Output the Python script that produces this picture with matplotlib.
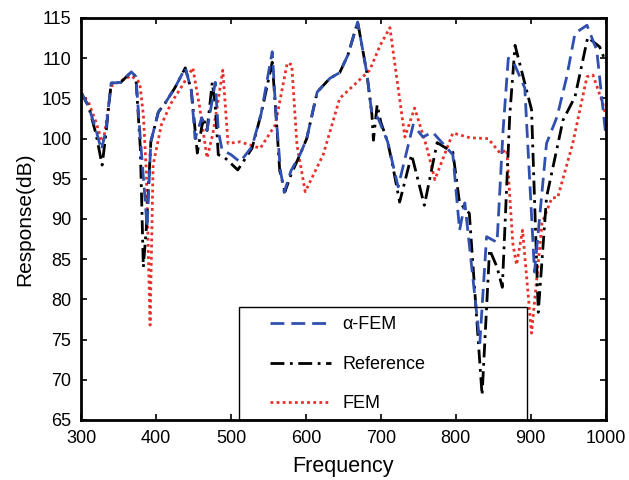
import matplotlib
matplotlib.use('Agg')
import matplotlib.pyplot as plt
from matplotlib.patches import Rectangle

plt.rcParams['font.family'] = ['Liberation Sans', 'DejaVu Sans']

# alpha-FEM
f_alpha = [300, 310, 320, 327, 333, 340, 353, 367, 373, 379, 384, 388, 393, 403, 412, 425,
           439, 447, 452, 461, 468, 479, 483, 488, 500, 512, 528, 540, 555, 560, 566, 571,
           580, 592, 601, 615, 632, 645, 656, 669, 681, 688, 696, 709, 723, 743, 756, 769,
           796, 805, 812, 832, 841, 855, 863, 870, 877, 892, 905, 921, 935, 948, 959, 975,
           988, 1000]
r_alpha = [105.7, 104, 101, 98.6, 101, 106.9, 107, 108.3, 107.7, 100, 94, 89, 99.6, 103.3, 104.4, 106.3,
           108.8, 106, 100, 102.6, 101, 107, 101, 98.6, 98, 97.1, 99, 103, 110.8, 103, 96, 93.3,
           96, 98, 100, 105.8, 107.5, 108.2, 110.4, 114.5, 108.3, 103, 102.6, 99.6, 94, 101.7, 100.2, 100.8,
           98, 88.6, 92, 74.6, 87.8, 87.1, 101, 110, 109.5, 106.3, 83.4, 99.4, 102.7, 107.7, 113.1, 114.1,
           111, 100.5]

# Reference
f_ref = [300, 310, 320, 328, 333, 340, 353, 367, 373, 379, 383, 387, 393, 403, 412, 425,
         439, 447, 455, 463, 468, 475, 479, 483, 492, 509, 528, 540, 555, 560, 565, 572,
         580, 592, 601, 615, 632, 645, 656, 669, 681, 688, 690, 695, 700, 709, 715, 725,
         741, 758, 775, 796, 805, 812, 818, 835, 845, 855, 862, 872, 879, 901, 910, 921,
         943, 959, 976, 992, 1000]
r_ref = [105.7, 104, 100.5, 96.7, 100.5, 106.9, 107, 108.3, 107.7, 98.8, 84, 88.9, 99.6, 103.3, 104.4, 106.3,
         108.8, 106, 98.2, 102.6, 101, 107, 104, 98, 97.6, 96.1, 98.8, 103, 109.5, 103, 96, 93.4,
         95.5, 98, 100, 105.8, 107.5, 108.2, 110.4, 114.5, 108.3, 103, 99.8, 104.2, 102, 99.6, 97, 92.1,
         98, 91.7, 99.5, 98.3, 92, 91.3, 90.7, 68.1, 86.2, 84, 81.5, 103, 111.6, 103.6, 78.4, 92.7,
         102.3, 105.2, 112.6, 111.4, 109.5]

# FEM
f_fem = [300, 310, 320, 329, 335, 340, 353, 367, 378, 383, 387, 392, 396, 407, 420, 433,
         449, 458, 468, 476, 489, 496, 512, 539, 559, 575, 581, 588, 599, 623, 645, 668,
         685, 699, 712, 723, 732, 745, 761, 772, 796, 819, 843, 859, 868, 876, 881, 889,
         901, 915, 928, 936, 956, 975, 983, 996, 1000]
r_fem = [105.7, 104.5, 102, 99.2, 103, 106.5, 107.2, 107.8, 107, 103, 95.8, 76.8, 96.7, 101.7, 104.4, 106.3,
         108.8, 104, 97.6, 100.7, 108.5, 99.4, 99.6, 98.8, 101.7, 109.4, 109.2, 99.2, 93.4, 98, 105, 107,
         108.5, 111.6, 113.8, 106.3, 100.2, 103.8, 99, 94.9, 100.7, 100.1, 100, 98.2, 98.6, 87, 84.3, 88.6,
         75.8, 89.5, 92.6, 92.7, 99.4, 107.7, 107.9, 104.4, 102.9]

fig = plt.figure(figsize=(6.29, 4.8), dpi=100)
ax = fig.add_axes([0.129, 0.125, 0.834, 0.8375])

l_fem, = ax.plot(f_fem, r_fem, color='#e8302a', ls=(0, (1, 1.2)), lw=2, label='FEM')
l_ref, = ax.plot(f_ref, r_ref, color='black', ls=(0, (5, 2, 1, 2)), lw=2, label='Reference')
l_alpha, = ax.plot(f_alpha, r_alpha, color='#3050b0', ls=(0, (5, 2.5)), lw=2, label='α-FEM')

ax.set_xlim(300, 1000)
ax.set_ylim(65, 115)
ax.set_xticks(range(300, 1001, 100))
ax.set_yticks(range(65, 116, 5))
ax.tick_params(direction='in', top=True, right=True, length=4, width=1.2, labelsize=13, pad=7)
for s in ax.spines.values():
    s.set_linewidth(2)

ax.set_xlabel('Frequency', fontsize=15.5, labelpad=7)
ax.set_ylabel('Response(dB)', fontsize=15, labelpad=5)

ax.add_patch(Rectangle((0.301, 0), 0.549, 0.281, transform=ax.transAxes,
                       fill=False, ec='black', lw=1, zorder=5))
ax.legend([l_alpha, l_ref, l_fem], ['α-FEM', 'Reference', 'FEM'],
          loc='upper left', bbox_to_anchor=(0.36, 0.258), frameon=False,
          fontsize=13, handlelength=3.4, handletextpad=0.6, labelspacing=1.25,
          borderpad=0, borderaxespad=0)

fig.savefig('out.png', dpi=100)
